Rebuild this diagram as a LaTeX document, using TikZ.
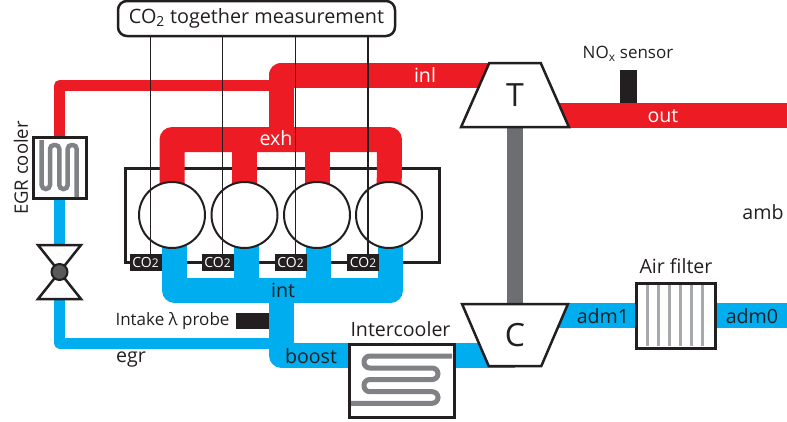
\documentclass[tikz,border=0pt]{standalone}
\usepackage{fontspec}
\setmainfont{Open Sans}
\usetikzlibrary{shapes.geometric,backgrounds}
\definecolor{hotred}{HTML}{ED1C24}
\definecolor{coldblue}{HTML}{00AEEF}
\definecolor{inkdark}{HTML}{231F20}
\definecolor{coilgray}{HTML}{808285}
\definecolor{shaftgray}{HTML}{6D6E71}
\definecolor{meshgray}{HTML}{A7A9AC}
\definecolor{flapgray}{HTML}{58595B}
\tikzset{
    bigpipe/.style={line width=25pt,line join=round},
    smallpipe/.style={line width=11pt,line join=round},
    darktext/.style={text=inkdark,font=\fontsize{19.6}{20}\selectfont,inner sep=0pt},
    smalltext/.style={text=inkdark,font=\fontsize{17}{17}\selectfont,inner sep=0pt},
    whitetext/.style={text=white,font=\fontsize{19.6}{20}\selectfont,inner sep=0pt},
    unitbox/.style={draw=inkdark,fill=white,line width=3pt,inner sep=0pt,outer sep=0pt},
    cylinder/.style={circle,draw=inkdark,fill=white,line width=2pt,minimum size=66pt,inner sep=0pt,outer sep=0pt},
    co2box/.style={fill=inkdark,text=white,minimum width=32pt,minimum height=17pt,inner sep=0pt,outer sep=0pt,font=\fontsize{14}{14}\selectfont},
    sensorbox/.style={fill=inkdark,inner sep=0pt,outer sep=0pt},
    turbo/.style={trapezium,trapezium stretches=true,draw=inkdark,fill=white,line width=2.5pt,inner sep=0pt,outer sep=0pt,text=inkdark,font=\fontsize{32}{32}\selectfont},
    coil/.style={draw=coilgray,line width=5pt},
    meshbar/.style={draw=meshgray,line width=2.5pt},
    tapline/.style={draw=inkdark,line width=1.2pt},
    flap/.style={draw=inkdark,fill=white,line width=2.5pt,line join=miter},
    valvedisc/.style={circle,draw=inkdark,fill=flapgray,line width=2pt,minimum size=16pt,inner sep=0pt,outer sep=0pt},
}
\begin{document}
\begin{tikzpicture}[x=1pt,y=-1pt]
    \useasboundingbox (0,0) rectangle (787,421);

    \coordinate (exhA) at (172,139.5);
    \coordinate (exhB) at (244.5,139.5);
    \coordinate (exhC) at (317,139.5);
    \coordinate (exhD) at (389.5,139.5);
    \coordinate (exhIn) at (281,139.5);
    \coordinate (inlBend) at (281,75);
    \coordinate (egrTop) at (59.5,85.5);
    \coordinate (egrTopEnd) at (281,85.5);
    \coordinate (outEnd) at (787,115);
    \coordinate (intA) at (174.5,290.5);
    \coordinate (intB) at (246.5,290.5);
    \coordinate (intC) at (318.5,290.5);
    \coordinate (intD) at (390.5,290.5);
    \coordinate (intOut) at (281.5,290.5);
    \coordinate (boostBend) at (281.5,355.5);
    \coordinate (egrLow) at (59.5,343);
    \coordinate (egrLowEnd) at (281.5,343);
    \coordinate (admEnd) at (787,315.5);

    \node[cylinder] (cylA) at (172,215) {};
    \node[cylinder] (cylB) at (244.5,215) {};
    \node[cylinder] (cylC) at (317,215) {};
    \node[cylinder] (cylD) at (389,215) {};
    \node[turbo,trapezium left angle=67,trapezium right angle=67,minimum width=108pt,minimum height=64pt] (turbine) at (515,95) {T};
    \node[turbo,shape border rotate=180,trapezium left angle=66.5,trapezium right angle=66.5,minimum width=106pt,minimum height=62pt] (compressor) at (515,335) {C};
    \node[unitbox,minimum width=53pt,minimum height=61pt] (egrcooler) at (59.5,168) {};
    \node[unitbox,minimum width=105pt,minimum height=73pt] (intercooler) at (401.5,380.5) {};
    \node[unitbox,minimum width=79pt,minimum height=65pt] (airfilter) at (675.5,315.5) {};

    \begin{scope}[on background layer]
    \node[draw=inkdark,line width=3pt,minimum width=314pt,minimum height=94pt,inner sep=0pt,outer sep=0pt] (block) at (282,215) {};
    \draw[bigpipe,draw=hotred] (inlBend -| turbine.center) -- (inlBend) -- (exhIn);
    \draw[smallpipe,draw=hotred] (egrcooler.north) -- (egrTop) -- (egrTopEnd);
    \draw[bigpipe,draw=hotred] (cylA.center) -- (exhA) -- (exhD) -- (cylD.center);
    \draw[bigpipe,draw=hotred] (cylB.center) -- (exhB);
    \draw[bigpipe,draw=hotred] (cylC.center) -- (exhC);
    \draw[bigpipe,draw=hotred] (turbine.center |- outEnd) -- (outEnd);
    \draw[smallpipe,draw=coldblue] (egrcooler.south) -- (59.5,272);
    \draw[smallpipe,draw=coldblue] (59.5,272) -- (egrLow) -- (egrLowEnd);
    \draw[bigpipe,draw=coldblue] (intA |- cylA.center) -- (intA) -- (intD) -- (intD |- cylD.center);
    \draw[bigpipe,draw=coldblue] (intB |- cylB.center) -- (intB);
    \draw[bigpipe,draw=coldblue] (intC |- cylC.center) -- (intC);
    \draw[bigpipe,draw=coldblue] (intOut) -- (boostBend) -- (boostBend -| compressor.center);
    \draw[bigpipe,draw=coldblue] (compressor.center |- admEnd) -- (admEnd);
    \draw[line width=16pt,draw=shaftgray] (turbine.center) -- (compressor.center);
    \end{scope}

    \draw[coil,line width=4.5pt,rounded corners=4pt]
        (41.7,140) -- (41.7,189) -- (50,189) -- (50,145) -- (59.3,145) -- (59.3,189)
        -- (67.7,189) -- (67.7,145) -- (76.7,145) -- (76.7,197);
    \draw[coil,rounded corners=5.8pt]
        (452,356) -- (364,356) -- (364,368) -- (438,368) -- (438,379.5) -- (364,379.5)
        -- (364,391.7) -- (438,391.7) -- (438,403.3) -- (351,403.3);
    \draw[meshbar]
        (647.3,285) -- (647.3,346)
        (658.3,285) -- (658.3,346)
        (669.3,285) -- (669.3,346)
        (680.7,285) -- (680.7,346)
        (691.7,285) -- (691.7,346)
        (702.7,285) -- (702.7,346)
    ;

    \draw[flap] (38,245) -- (81,245) -- (59.5,272) -- cycle;
    \draw[flap] (38,299) -- (81,299) -- (59.5,272) -- cycle;
    \node[valvedisc] (valve) at (59.5,272) {};

    \node[sensorbox,minimum width=17pt,minimum height=33pt] (noxprobe) at (628.5,86.5) {};
    \node[sensorbox,minimum width=33pt,minimum height=16pt] (lambdaprobe) at (252.5,321) {};

    \node[co2box] (co2A) at (145.5,262.5) {CO{\fontsize{12}{12}\selectfont 2}};
    \node[co2box] (co2B) at (217.5,262.5) {CO{\fontsize{12}{12}\selectfont 2}};
    \node[co2box] (co2C) at (290.5,262.5) {CO{\fontsize{12}{12}\selectfont 2}};
    \node[co2box] (co2D) at (363,262.5) {CO{\fontsize{12}{12}\selectfont 2}};

    \node[draw=inkdark,fill=white,line width=2.5pt,rounded corners=9pt,minimum width=277pt,minimum height=35pt,inner sep=0pt,outer sep=0pt,text=inkdark,font=\fontsize{19.8}{20}\selectfont] (together) at (256.5,18.5) {CO\textsubscript{2} together measurement};

    \draw[tapline] ([xshift=5pt]co2A.north) -- ([xshift=5pt]co2A.north |- together.south);
    \draw[tapline] ([xshift=5pt]co2B.north) -- ([xshift=5pt]co2B.north |- together.south);
    \draw[tapline] ([xshift=5pt]co2C.north) -- ([xshift=5pt]co2C.north |- together.south);
    \draw[tapline] ([xshift=5pt]co2D.north) -- ([xshift=5pt]co2D.north |- together.south);

    \node[whitetext] (inl) at (425,75) {inl};
    \node[whitetext] (exh) at (276,138) {exh};
    \node[whitetext] (out) at (663,116) {out};
    \node[smalltext] (noxlabel) at (628,54) {NO\textsubscript{x} sensor};
    \node[darktext] (amb) at (763,212) {amb};
    \node[darktext] (adm1) at (603,316) {adm1};
    \node[darktext] (adm0) at (752,316) {adm0};
    \node[darktext] (filterlabel) at (676,266) {Air filter};
    \node[darktext] (coollabel) at (400.5,329) {Intercooler};
    \node[darktext] (boost) at (311,356) {boost};
    \node[darktext] (int) at (283,290) {int};
    \node[darktext] (egr) at (131,360) {egr};
    \node[smalltext] (lambdalabel) at (172.5,321) {Intake λ probe};
    \node[darktext,font=\fontsize{18.5}{19}\selectfont,rotate=90] (egrlabel) at (21,168) {EGR cooler};
\end{tikzpicture}
\end{document}
